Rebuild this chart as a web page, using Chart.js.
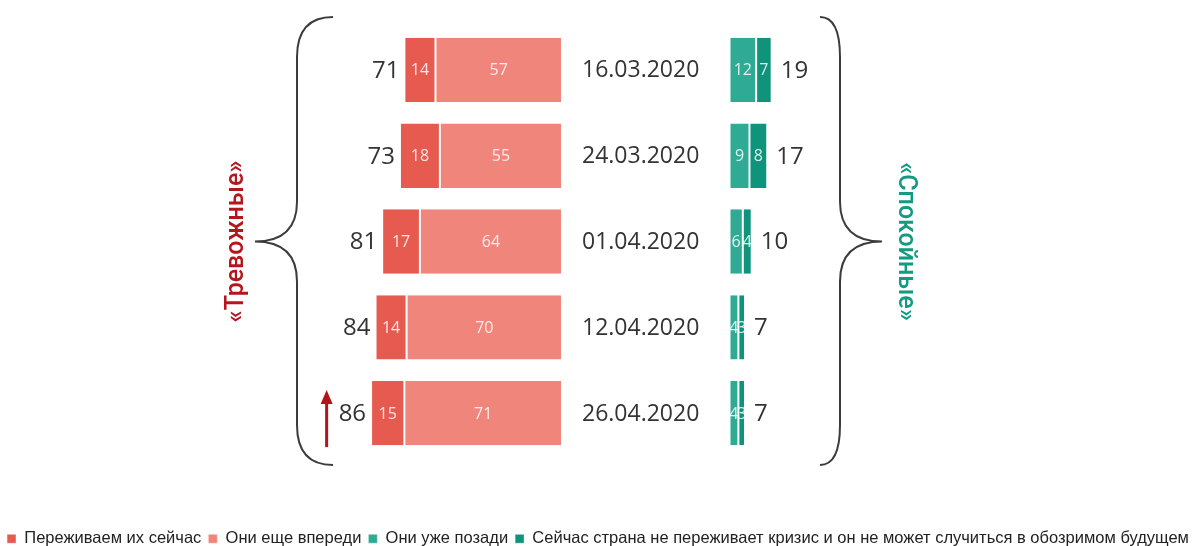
<!DOCTYPE html>
<html><head><meta charset="utf-8">
<script src="https://cdn.jsdelivr.net/npm/chart.js@4.4.0/dist/chart.umd.min.js"></script>
<style>html,body{margin:0;padding:0;background:#fff;}#wrap{width:1196px;height:546px;position:relative;}</style>
</head><body><div id="wrap"><canvas id="c" width="1196" height="546"></canvas></div>
<script>
// ---- data ----
const dates = ['16.03.2020','24.03.2020','01.04.2020','12.04.2020','26.04.2020'];
const nowValues = [14,18,17,14,15];        // Переживаем их сейчас
const aheadValues = [57,55,64,70,71];      // Они еще впереди
const behindValues = [12,9,6,4,4];         // Они уже позади
const neverValues = [7,8,4,3,3];           // Сейчас страна не переживает кризис...
const seriesNames = ['Переживаем их сейчас','Они еще впереди','Они уже позади',
  'Сейчас страна не переживает кризис и он не может случиться в обозримом будущем'];
const groupNames = ['«Тревожные»','«Спокойные»'];

// ---- styles ----
const colors = ['#e65a50','#f0857c','#2fab95','#0f937b'];
const PX_PER_UNIT = 2.22;
const W = 1196;
const LEFT_ZERO = 562, RIGHT_ZERO = 729.5;
const PLOT_BOTTOM = 456, PAD_BOTTOM = -11;
const FONT_MAIN = '"Open Sans", "Liberation Sans", sans-serif';
const FONT_LEG = '"Liberation Sans", sans-serif';

const neg = a => a.map(v => -v);
const common = {stack:'s', borderColor:'rgba(255,255,255,0.9)', borderWidth:{left:1,right:1,top:0,bottom:0}, borderSkipped:false, categoryPercentage:1, barPercentage:0.75};
const datasets = [
  Object.assign({label:seriesNames[1], data:neg(aheadValues), backgroundColor:colors[1], xAxisID:'xl', raw:aheadValues}, common),
  Object.assign({label:seriesNames[0], data:neg(nowValues), backgroundColor:colors[0], xAxisID:'xl', raw:nowValues}, common),
  Object.assign({label:seriesNames[2], data:behindValues, backgroundColor:colors[2], xAxisID:'xr', raw:behindValues}, common),
  Object.assign({label:seriesNames[3], data:neverValues, backgroundColor:colors[3], xAxisID:'xr', raw:neverValues}, common)
];
const legendRank = [1,0,2,3];

function drawBrace(ctx, xEnd, xLine, xTip, yTop, yMid, yBot, r, rm){
  ctx.beginPath();
  ctx.moveTo(xEnd, yTop);
  ctx.quadraticCurveTo(xLine, yTop, xLine, yTop + r);
  ctx.lineTo(xLine, yMid - rm);
  ctx.quadraticCurveTo(xLine, yMid, xTip, yMid);
  ctx.quadraticCurveTo(xLine, yMid, xLine, yMid + rm);
  ctx.lineTo(xLine, yBot - r);
  ctx.quadraticCurveTo(xLine, yBot, xEnd, yBot);
  ctx.stroke();
}

const decor = {
  id:'decor',
  afterDatasetsDraw(chart){
    const ctx = chart.ctx;
    const xl = chart.scales.xl, xr = chart.scales.xr, y = chart.scales.y;
    const ca = chart.chartArea;
    ctx.save();
    // segment labels
    ctx.textAlign = 'center'; ctx.textBaseline = 'middle';
    ctx.font = '16px ' + FONT_MAIN;
    ctx.fillStyle = 'rgba(255,255,255,0.85)';
    chart.data.datasets.forEach((ds, di) => {
      const meta = chart.getDatasetMeta(di);
      meta.data.forEach((bar, i) => {
        const p = bar.getProps(['x','base','y'], true);
        ctx.fillText(String(ds.raw[i]), (p.x + p.base)/2, p.y + 1);
      });
    });
    // totals & dates
    const x0l = xl.getPixelForValue(0);
    dates.forEach((d, i) => {
      const yc = y.getPixelForValue(i);
      const lt = nowValues[i] + aheadValues[i];
      const rt = behindValues[i] + neverValues[i];
      ctx.fillStyle = '#333';
      ctx.font = '500 24px ' + FONT_MAIN;
      ctx.textAlign = 'right';
      ctx.fillText(String(lt), xl.getPixelForValue(-lt) - 5, yc + 1);
      ctx.textAlign = 'left';
      ctx.fillText(String(rt), xr.getPixelForValue(rt) + 9, yc + 1);
      ctx.font = '23px ' + FONT_MAIN;
      ctx.fillText(d, x0l + 20, yc + 1);
    });
    // braces
    ctx.strokeStyle = '#3c3c3c'; ctx.lineWidth = 2;
    const yTop = ca.top - 10, yBot = ca.bottom + 9, yMid = y.getPixelForValue(2);
    drawBrace(ctx, 333, 297, 255, yTop, yMid, yBot, 40, 40);
    drawBrace(ctx, 820, 840, 882, yTop, yMid, yBot, 40, 40);
    // group labels
    ctx.font = '500 25px Roboto, "Liberation Sans", sans-serif';
    ctx.textAlign = 'center'; ctx.textBaseline = 'middle';
    ctx.save(); ctx.translate(237, yMid); ctx.rotate(-Math.PI/2);
    ctx.fillStyle = '#b5161c'; ctx.fillText(groupNames[0], 0, 0); ctx.restore();
    ctx.save(); ctx.translate(905, yMid); ctx.rotate(Math.PI/2);
    ctx.fillStyle = '#139a80'; ctx.fillText(groupNames[1], 0, 0); ctx.restore();
    // arrow near the last row
    const last = dates.length - 1;
    const yl = y.getPixelForValue(last);
    ctx.font = '500 24px ' + FONT_MAIN;
    const lt = nowValues[last] + aheadValues[last];
    const tw = ctx.measureText(String(lt)).width;
    const ax = xl.getPixelForValue(-lt) - 5 - tw - 12;
    ctx.strokeStyle = '#b3141a'; ctx.fillStyle = '#b3141a'; ctx.lineWidth = 3;
    ctx.beginPath(); ctx.moveTo(ax, yl + 34); ctx.lineTo(ax, yl - 10); ctx.stroke();
    ctx.beginPath(); ctx.moveTo(ax, yl - 23); ctx.lineTo(ax - 6, yl - 9); ctx.lineTo(ax + 6, yl - 9); ctx.closePath(); ctx.fill();
    ctx.restore();
  }
};

new Chart(document.getElementById('c'), {
  type:'bar',
  data:{labels:dates, datasets},
  options:{
    indexAxis:'y', responsive:false, animation:false, devicePixelRatio:1,
    layout:{padding:{top:27, left:0, right:0, bottom:PAD_BOTTOM}},
    scales:{
      y:{display:false, stacked:true},
      xl:{type:'linear', position:'bottom', stacked:true, min:-LEFT_ZERO/PX_PER_UNIT, max:(W-LEFT_ZERO)/PX_PER_UNIT,
        grid:{display:false}, ticks:{display:false}, border:{display:false},
        afterFit(s){
          const lh = s.chart.legend ? s.chart.legend.height : 0;
          s.height = Math.max(0, s.chart.height - PAD_BOTTOM - lh - PLOT_BOTTOM);
        }},
      xr:{type:'linear', display:false, stacked:true, min:-RIGHT_ZERO/PX_PER_UNIT, max:(W-RIGHT_ZERO)/PX_PER_UNIT}
    },
    plugins:{
      tooltip:{enabled:false},
      legend:{position:'bottom', labels:{
        boxWidth:9, boxHeight:9, padding:7, color:'#222',
        font:{family:FONT_LEG, size:16.5},
        sort:(a,b) => legendRank[a.datasetIndex] - legendRank[b.datasetIndex]
      }}
    }
  },
  plugins:[decor]
});
</script></body></html>
